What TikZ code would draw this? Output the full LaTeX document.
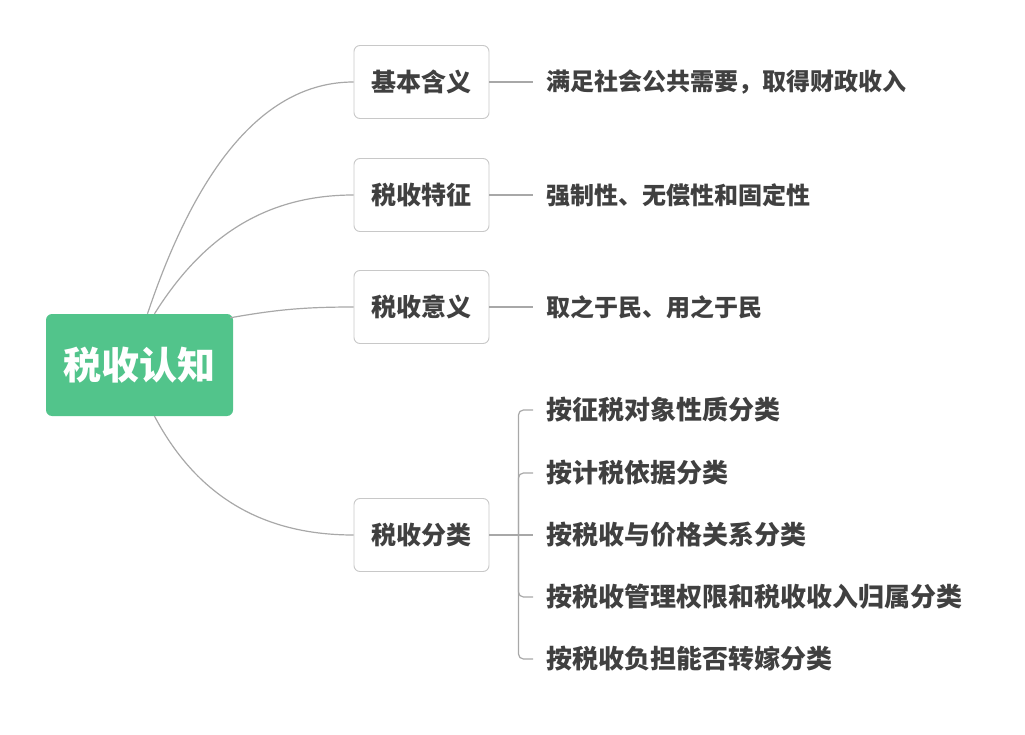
\documentclass[tikz,border=0pt]{standalone}
\usepackage{fontspec}
\setmainfont{Noto Sans CJK SC}
\usetikzlibrary{positioning}
\definecolor{rootcolor}{RGB}{82, 196, 139}
\definecolor{topicborder}{RGB}{200, 200, 200}
\definecolor{linecolor}{RGB}{168, 168, 168}
\definecolor{labelcolor}{RGB}{64, 64, 64}
\tikzset{
rootblock/.style={
  draw=none,
  rounded corners=6pt,
  fill=rootcolor,
  minimum width=187pt,
  minimum height=102pt,
  text=white,
  font=\bfseries\fontsize{38pt}{44pt}\selectfont
},
topicblock/.style={
  draw=topicborder,
  line width=0.9pt,
  rounded corners=6pt,
  fill=white,
  minimum width=135pt,
  minimum height=73pt,
  text=labelcolor,
  font=\bfseries\fontsize{25pt}{30pt}\selectfont
},
leaftext/.style={
  anchor=west,
  inner xsep=13pt,
  text=labelcolor,
  font=\bfseries\fontsize{24pt}{28pt}\selectfont
},
leaftextbig/.style={
  leaftext,
  font=\bfseries\fontsize{26pt}{30pt}\selectfont
},
conn/.style={
  draw=linecolor,
  line width=1.2pt
}
}
\begin{document}
\begin{tikzpicture}[x=1pt, y=-1pt]
  \useasboundingbox (0,0) rectangle (1025,735);

  % Root and main topics
  \node[rootblock] (root) at (139.5,365) {税收认知};
  \node[topicblock] (jbhy) at (421.5,82) {基本含义};
  \node[topicblock] (sstz) at (421.5,195) {税收特征};
  \node[topicblock] (ssyy) at (421.5,307) {税收意义};
  \node[topicblock] (ssfl) at (421.5,535) {税收分类};

  % Leaves
  \node[leaftext, right=44pt of jbhy] (jbhyleaf) {满足社会公共需要，取得财政收入};
  \node[leaftext, right=44pt of sstz] (sstzleaf) {强制性、无偿性和固定性};
  \node[leaftext, right=44pt of ssyy] (ssyyleaf) {取之于民、用之于民};

  \node[leaftextbig] (fl1) at (533,410) {按征税对象性质分类};
  \node[leaftextbig] (fl2) at (533,473) {按计税依据分类};
  \node[leaftextbig] (fl3) at (533,535) {按税收与价格关系分类};
  \node[leaftextbig] (fl4) at (533,597) {按税收管理权限和税收收入归属分类};
  \node[leaftextbig] (fl5) at (533,659) {按税收负担能否转嫁分类};

  % Curved branches
  \draw[conn] ([xshift=8pt]root.north) .. controls +(52,-155) and +(-85,0) .. (jbhy.west);
  \draw[conn] ([xshift=15pt]root.north) .. controls +(50,-80) and +(-85,0) .. (sstz.west);
  \draw[conn] ([shift={(-3,4)}]root.north east) .. controls +(45,-8) and +(-50,0) .. (ssyy.west);
  \draw[conn] ([xshift=15pt]root.south) .. controls +(45,85) and +(-85,0) .. (ssfl.west);

  % Straight links
  \draw[conn] (jbhy.east) -- (jbhyleaf.west);
  \draw[conn] (sstz.east) -- (sstzleaf.west);
  \draw[conn] (ssyy.east) -- (ssyyleaf.west);

  % Bracket of the classification leaves
  \coordinate (flhub) at ([xshift=29pt]ssfl.east);
  \draw[conn] (ssfl.east) -- (fl3.west);
  \draw[conn, rounded corners=5pt] (fl1.west) -| (flhub) |- (fl5.west);
  \draw[conn, rounded corners=5pt] (flhub) |- (fl2.west);
  \draw[conn, rounded corners=5pt] (flhub) |- (fl4.west);

\end{tikzpicture}
\end{document}
